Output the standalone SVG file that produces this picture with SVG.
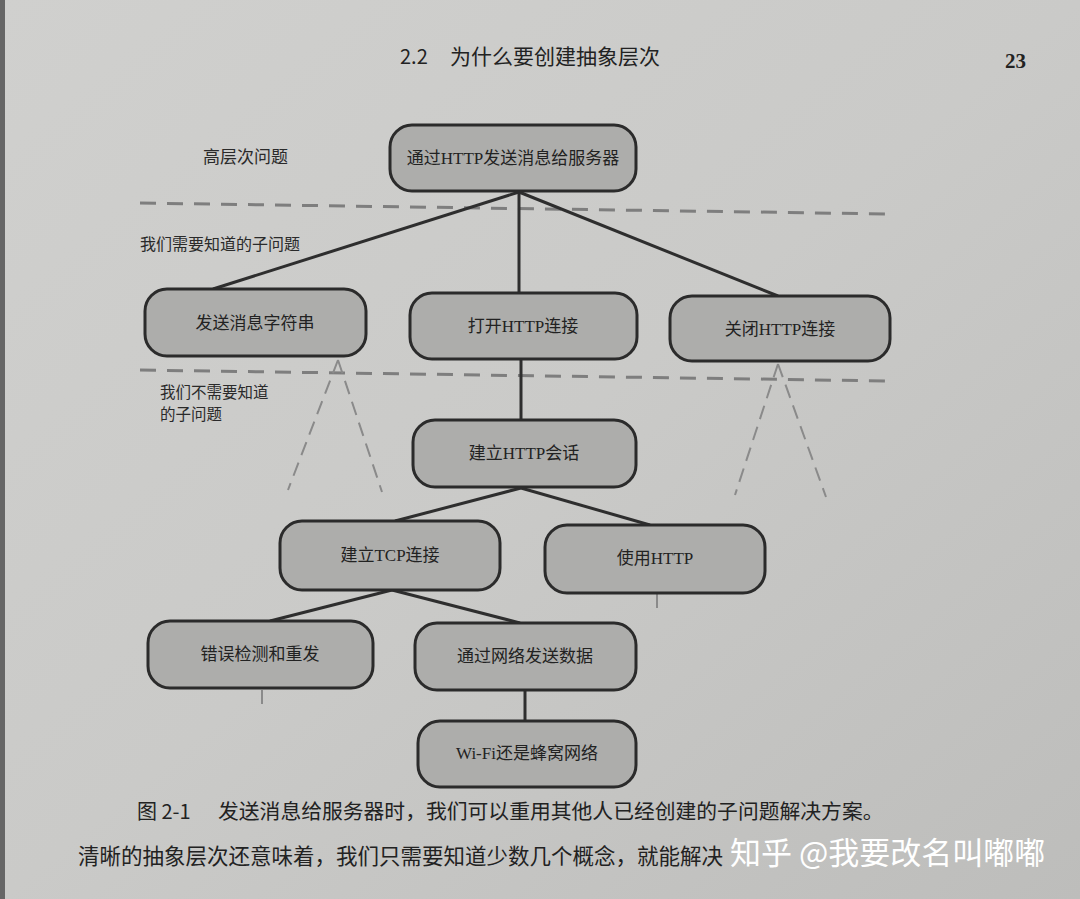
<svg xmlns="http://www.w3.org/2000/svg" width="1080" height="899" viewBox="0 0 1080 899">
<defs>
<linearGradient id="bg" x1="0" y1="0" x2="1" y2="1">
<stop offset="0" stop-color="#d0d0ce"/>
<stop offset="0.5" stop-color="#cacac8"/>
<stop offset="1" stop-color="#bdbdbb"/>
</linearGradient>
<style>
.node rect{fill:#adadab;stroke:#2b2b2b;stroke-width:3}
.node text{font-family:"Liberation Serif","Noto Sans CJK SC",serif;font-size:17px;fill:#222;text-anchor:middle;dominant-baseline:central}
.conn line{stroke:#2e2e2e;stroke-width:3}
.dash line{stroke:#7e7e7e;stroke-width:3;stroke-dasharray:16 11}
.tdash line{stroke:#8a8a8a;stroke-width:2;stroke-dasharray:14 8}
.lbl{font-family:"Noto Sans CJK SC","Noto Sans",sans-serif;fill:#2a2a2a}
.body{font-family:"Noto Sans CJK SC","Noto Sans",sans-serif;fill:#222}
</style>
</defs>
<rect width="1080" height="899" fill="url(#bg)"/>
<rect x="0" y="0" width="5" height="899" fill="#666"/>

<text x="400" y="64" class="body" font-size="20">2.2</text>
<text x="450" y="64" class="body" font-size="21">为什么要创建抽象层次</text>
<text x="1005" y="68" font-family="Liberation Serif,serif" font-weight="bold" font-size="21" fill="#222">23</text>

<g class="dash">
<line x1="140" y1="203" x2="890" y2="214"/>
<line x1="140" y1="370" x2="890" y2="381"/>
</g>

<text x="203" y="163" class="lbl" font-size="17">高层次问题</text>
<text x="140" y="250" class="lbl" font-size="16">我们需要知道的子问题</text>
<text x="160" y="398" class="lbl" font-size="15.5">我们不需要知道</text>
<text x="160" y="420" class="lbl" font-size="15.5">的子问题</text>

<g class="tdash">
<line x1="338" y1="360" x2="288" y2="490"/>
<line x1="338" y1="360" x2="382" y2="492"/>
<line x1="778" y1="364" x2="735" y2="495"/>
<line x1="778" y1="364" x2="826" y2="497"/>
<line x1="657" y1="594" x2="657" y2="612"/>
<line x1="262" y1="690" x2="262" y2="712"/>
</g>

<g id="connectors" class="conn">
<line x1="519" y1="192" x2="213" y2="289"/>
<line x1="519" y1="192" x2="519" y2="293"/>
<line x1="519" y1="192" x2="778" y2="296"/>
<line x1="521" y1="359" x2="521" y2="420"/>
<line x1="521" y1="488" x2="395" y2="521"/>
<line x1="521" y1="488" x2="650" y2="525"/>
<line x1="392" y1="590" x2="270" y2="621"/>
<line x1="392" y1="590" x2="520" y2="623"/>
<line x1="525" y1="690" x2="525" y2="721"/>
</g>

<g id="n1" class="node"><rect x="390" y="125" width="246" height="66" rx="22"/><text x="513" y="158">通过HTTP发送消息给服务器</text></g>
<g id="n2" class="node"><rect x="145" y="289" width="221" height="67" rx="22"/><text x="255" y="323">发送消息字符串</text></g>
<g id="n3" class="node"><rect x="410" y="293" width="227" height="66" rx="22"/><text x="523" y="326">打开HTTP连接</text></g>
<g id="n4" class="node"><rect x="670" y="296" width="220" height="65" rx="22"/><text x="780" y="329">关闭HTTP连接</text></g>
<g id="n5" class="node"><rect x="413" y="420" width="223" height="67" rx="22"/><text x="524" y="453">建立HTTP会话</text></g>
<g id="n6" class="node"><rect x="280" y="521" width="220" height="69" rx="22"/><text x="390" y="555">建立TCP连接</text></g>
<g id="n7" class="node"><rect x="545" y="525" width="220" height="68" rx="22"/><text x="655" y="558">使用HTTP</text></g>
<g id="n8" class="node"><rect x="148" y="621" width="225" height="67" rx="22"/><text x="260" y="654">错误检测和重发</text></g>
<g id="n9" class="node"><rect x="415" y="623" width="221" height="67" rx="22"/><text x="525" y="656">通过网络发送数据</text></g>
<g id="n10" class="node"><rect x="418" y="721" width="218" height="66" rx="22"/><text x="527" y="753">Wi-Fi还是蜂窝网络</text></g>

<text x="137" y="819" class="body" font-size="20">图 2-1</text>
<text x="218" y="819" class="body" font-size="20.8">发送消息给服务器时，我们可以重用其他人已经创建的子问题解决方案。</text>
<text x="78" y="864" class="body" font-size="21.5">清晰的抽象层次还意味着，我们只需要知道少数几个概念，就能解决</text>
<text x="730" y="864" font-family="Noto Sans CJK SC,sans-serif" font-size="31" fill="#ffffff">知乎 @我要改名叫嘟嘟</text>
</svg>
